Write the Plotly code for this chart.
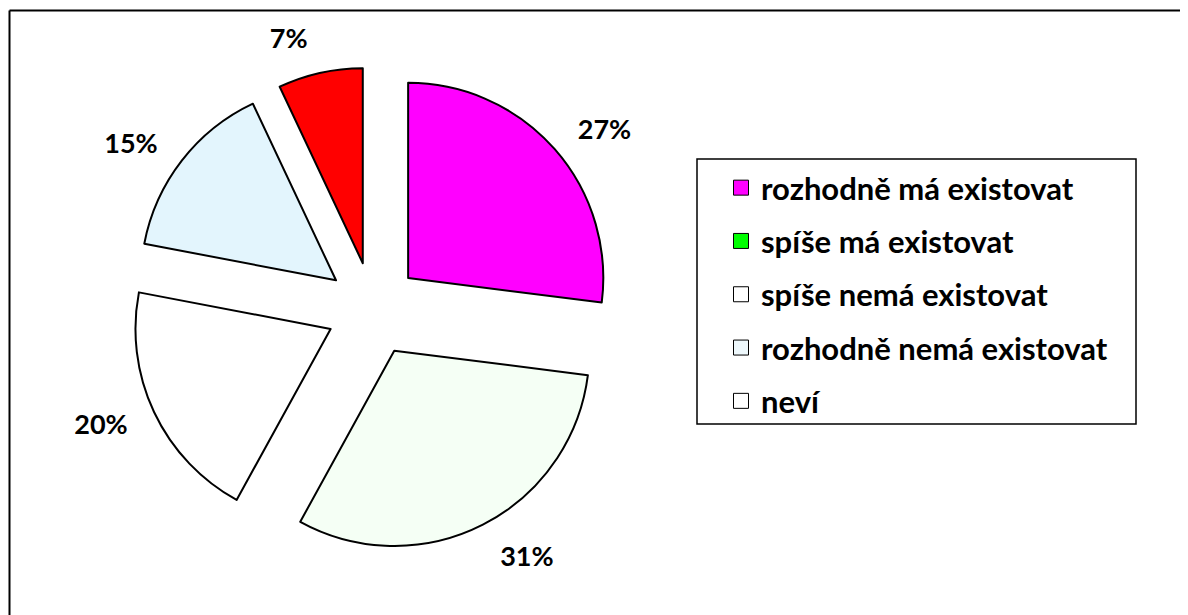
import plotly.graph_objects as go

categories = ["rozhodně má existovat", "spíše má existovat", "spíše nemá existovat",
              "rozhodně nemá existovat", "neví"]
values = [27, 31, 20, 15, 7]
slice_colors = ["#FF00FF", "#F5FFF5", "#FFFFFF", "#E3F5FD", "#FF0000"]
legend_colors = ["#FF00FF", "#00FF00", "#FFFFFF", "#EEF8FC", "#FFFFFF"]

FONT = "Lato"
OFF = 8  # page body margin
W, H = 1188 - OFF, 615 - OFF  # figure fits the window without overflow


def px(x):
    return (x - OFF) / W


def py(y):
    return 1 - (y - OFF) / H


CX, CY, HALF = 373, 309, 242
LABEL_HALF = HALF + 20

fig = go.Figure()
# the pie itself
fig.add_trace(go.Pie(
    labels=categories,
    values=values,
    sort=False,
    direction="clockwise",
    rotation=0,
    pull=[0.24] * len(values),
    marker=dict(colors=slice_colors, line=dict(color="black", width=2)),
    textinfo="none",
    showlegend=False,
    hoverinfo="label+percent",
    domain=dict(x=[px(CX - HALF), px(CX + HALF)], y=[py(CY + HALF), py(CY - HALF)]),
))
# transparent companion pie carrying the outside percentage labels a bit farther out
fig.add_trace(go.Pie(
    labels=categories,
    values=values,
    sort=False,
    direction="clockwise",
    rotation=0,
    pull=[0.24] * len(values),
    marker=dict(colors=["rgba(0,0,0,0)"] * len(values), line=dict(width=0)),
    texttemplate="<b>%{value}%</b>",
    textposition="outside",
    textfont=dict(family=FONT, size=27, color="black"),
    showlegend=False,
    hoverinfo="skip",
    domain=dict(x=[px(CX - LABEL_HALF), px(CX + LABEL_HALF)],
                y=[py(CY + LABEL_HALF), py(CY - LABEL_HALF)]),
))

for i, (name, col) in enumerate(zip(categories, legend_colors)):
    fig.add_trace(go.Scatter(
        x=[0], y=[0], mode="markers", name=f"<b>{name}</b>",
        legendgroup=f"g{i}",
        marker=dict(symbol="square", size=15, color=col,
                    line=dict(color="black", width=1)),
        hoverinfo="skip",
    ))

fig.update_layout(
    width=W, height=H,
    margin=dict(l=0, r=0, t=0, b=0, autoexpand=False),
    paper_bgcolor="white", plot_bgcolor="white",
    xaxis=dict(visible=False, range=[10, 11]),
    yaxis=dict(visible=False, range=[10, 11]),
    legend=dict(
        x=px(721), y=py(161), xanchor="left", yanchor="top",
        bgcolor="rgba(0,0,0,0)", borderwidth=0,
        font=dict(family=FONT, size=31, color="black"),
        tracegroupgap=10,
    ),
    shapes=[
        dict(type="rect", xref="paper", yref="paper", x0=px(697), x1=px(1136),
             y0=py(424), y1=py(159), line=dict(color="black", width=1.5),
             fillcolor="rgba(0,0,0,0)", layer="below"),
        dict(type="line", xref="paper", yref="paper", x0=px(9.5), x1=1,
             y0=py(10.5), y1=py(10.5), line=dict(color="black", width=2)),
        dict(type="line", xref="paper", yref="paper", x0=px(9.5), x1=px(9.5),
             y0=py(10.5), y1=0, line=dict(color="black", width=2)),
    ],
)

fig.write_html("out.html")
